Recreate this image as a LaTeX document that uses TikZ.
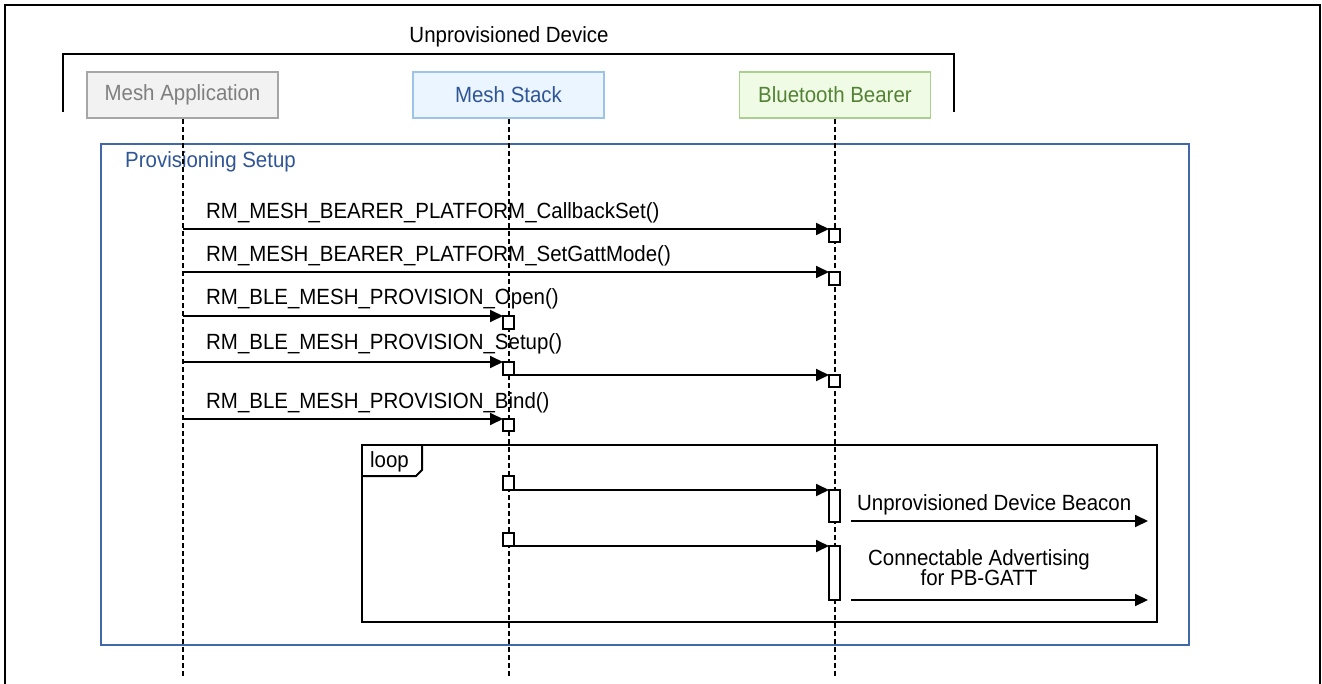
\documentclass[tikz,border=0pt]{standalone}
\usepackage{fontspec}
\setmainfont{Liberation Sans}[FakeStretch=0.93]
\usetikzlibrary{arrows.meta}
\definecolor{appfill}{HTML}{F2F2F2}
\definecolor{appdraw}{HTML}{A6A6A6}
\definecolor{apptext}{HTML}{7F7F7F}
\definecolor{stackfill}{HTML}{EBF5FF}
\definecolor{stackdraw}{HTML}{9DC3E6}
\definecolor{stacktext}{HTML}{2F5597}
\definecolor{btfill}{HTML}{F0FBE6}
\definecolor{btdraw}{HTML}{A9D18E}
\definecolor{bttext}{HTML}{548235}
\definecolor{frameblue}{HTML}{4169AA}
\begin{document}
\begin{tikzpicture}[x=1pt,y=-1pt,
  txt/.style={font=\fontsize{22}{26}\selectfont, inner sep=0pt},
  participant/.style={txt, draw, line width=1.8pt, minimum width=191pt, minimum height=46pt},
  lifeline/.style={line width=1.8pt, dash pattern=on 5pt off 3pt},
  actbox/.style={draw, fill=white, line width=1.8pt, minimum width=11pt, inner sep=0pt, outer sep=0pt, anchor=north west},
  msg/.style={line width=1.8pt, -{Triangle[length=13pt,width=12pt]}},
  framebox/.style={line width=2pt}]
\useasboundingbox (0,0) rectangle (1322,684);
% outer frame
\draw[line width=2.5pt] (5,684) -- (5,5) -- (1320,5) -- (1320,684);
% device bracket
\node[txt, anchor=base] (dev) at (509,43) {Unprovisioned Device};
\draw[line width=2pt] (63,112) -- (63,54) -- (954,54) -- (954,112);
% participants
\node[participant, fill=appfill, draw=appdraw, text=apptext] (app) at (182.5,95) {Mesh Application};
\node[participant, fill=stackfill, draw=stackdraw, text=stacktext] (stack) at (508.5,95) {Mesh Stack};
\node[participant, fill=btfill, draw=btdraw, text=bttext] (bt) at (835,95) {Bluetooth Bearer};
% frames
\draw[framebox, draw=frameblue] (101,144) rectangle (1189,645);
\node[txt, text=stacktext, anchor=base west] (prov) at (125,168) {Provisioning Setup};
\draw[framebox] (362,445) rectangle (1157,622);
\draw[framebox] (362,476) -- (416,476) -- (422,470) -- (422,445);
\node[txt, anchor=base west] (loop) at (370,467) {loop};
% lifelines
\coordinate (append) at (183,678);
\coordinate (stackend) at (509,678);
\coordinate (btend) at (835,678);
\draw[lifeline] (app.south -| append) -- (append);
\draw[lifeline] (stack.south -| stackend) -- (stackend);
\draw[lifeline] (bt.south -| btend) -- (btend);
% message 1
\coordinate (s1) at (183,229);
\node[actbox, minimum height=13pt] (a1) at (829,229) {};
\draw[msg] (s1) -- (a1.north west);
\node[txt, anchor=base west] (l1) at (206,219) {RM\_MESH\_BEARER\_PLATFORM\_CallbackSet()};
% message 2
\coordinate (s2) at (183,272);
\node[actbox, minimum height=13pt] (a2) at (829,272) {};
\draw[msg] (s2) -- (a2.north west);
\node[txt, anchor=base west] (l2) at (206,262) {RM\_MESH\_BEARER\_PLATFORM\_SetGattMode()};
% message 3
\coordinate (s3) at (183,316);
\node[actbox, minimum height=13pt] (a3) at (503,316) {};
\draw[msg] (s3) -- (a3.north west);
\node[txt, anchor=base west] (l3) at (206,305) {RM\_BLE\_MESH\_PROVISION\_Open()};
% message 4
\coordinate (s4) at (183,362);
\node[actbox, minimum height=13pt] (a4) at (503,362) {};
\draw[msg] (s4) -- (a4.north west);
\node[actbox, minimum height=12pt] (a4b) at (829,375) {};
\draw[msg] (a4.south east) -- (a4b.north west);
\node[txt, anchor=base west] (l4) at (206,350) {RM\_BLE\_MESH\_PROVISION\_Setup()};
% message 5
\coordinate (s5) at (183,419);
\node[actbox, minimum height=12pt] (a5) at (503,419) {};
\draw[msg] (s5) -- (a5.north west);
\node[txt, anchor=base west] (l5) at (206,408) {RM\_BLE\_MESH\_PROVISION\_Bind()};
% loop message 1
\node[actbox, minimum height=14pt] (b1) at (503,476) {};
\node[actbox, minimum height=32pt] (c1) at (829,490) {};
\draw[msg] (b1.south east) -- (c1.north west);
\coordinate (o1s) at (851,521);
\coordinate (o1e) at (1148,521);
\draw[msg] (o1s) -- (o1e);
\node[txt, anchor=base west] (t1) at (857,510) {Unprovisioned Device Beacon};
% loop message 2
\node[actbox, minimum height=13pt] (b2) at (503,533) {};
\node[actbox, minimum height=54pt] (c2) at (829,546) {};
\draw[msg] (b2.south east) -- (c2.north west);
\coordinate (o2s) at (851,600);
\coordinate (o2e) at (1148,600);
\draw[msg] (o2s) -- (o2e);
\node[txt, anchor=base] (t2) at (979,565) {Connectable Advertising};
\node[txt, anchor=base] (t3) at (979,585) {for PB-GATT};
\end{tikzpicture}
\end{document}
